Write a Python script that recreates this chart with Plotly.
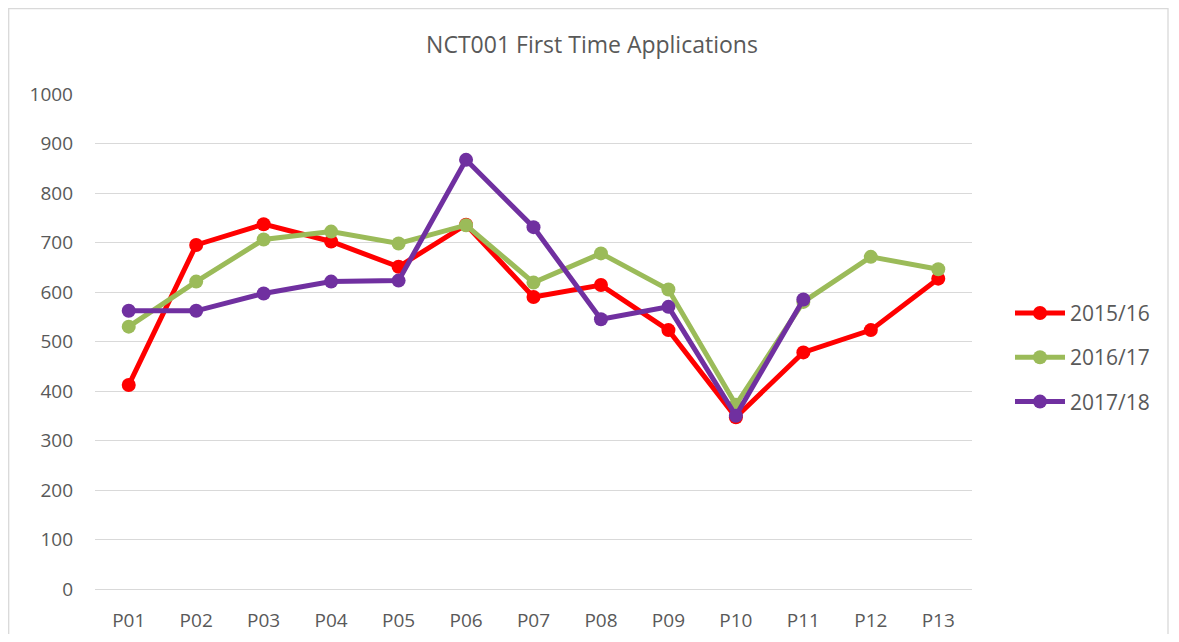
import plotly.graph_objects as go

periods = ["P01", "P02", "P03", "P04", "P05", "P06", "P07", "P08", "P09", "P10", "P11", "P12", "P13"]
y2015 = [412, 695, 737, 702, 651, 736, 590, 614, 523, 347, 478, 523, 627]
y2016 = [530, 621, 706, 722, 698, 735, 619, 678, 605, 372, 580, 671, 646]
y2017 = [562, 562, 597, 621, 623, 867, 731, 545, 570, 350, 585]
series_names = ["2015/16", "2016/17", "2017/18"]
series_colors = ["#FF0000", "#9BBB59", "#7030A0"]

# page body has an 8px margin; figure is sized/positioned to compensate
W, H = 1163, 626
L, T = 87, 86
PW, PH = 877, 495
R = W - L - PW
B = H - T - PH

fig = go.Figure()
for name, vals, col in zip(series_names, [y2015, y2016, y2017], series_colors):
    fig.add_trace(go.Scatter(
        x=periods[:len(vals)], y=vals, name=name, mode="lines+markers",
        line=dict(color=col, width=5),
        marker=dict(color=col, size=14),
        legendgroup=name,
    ))

fig.update_layout(
    width=W, height=H,
    margin=dict(l=L, r=R, t=T, b=B, autoexpand=False),
    paper_bgcolor="white", plot_bgcolor="white",
    font=dict(family="'Open Sans', sans-serif", color="#595959", size=19),
    title=dict(text="NCT001 First Time Applications", x=(592 - 8) / W, xref="container",
               xanchor="center", y=1 - 37 / H, yref="container", yanchor="middle",
               font=dict(size=23, color="#595959")),
    legend=dict(x=(1010 - 8 - L) / PW, xanchor="left", y=0.468, yanchor="middle",
                font=dict(size=21, color="#595959"), tracegroupgap=14,
                itemwidth=50, bgcolor="rgba(0,0,0,0)"),
    showlegend=True,
)
fig.update_xaxes(type="category", categoryorder="array", categoryarray=periods,
                 range=[-0.5, 12.5], showgrid=False, showline=False, zeroline=False,
                 automargin=False,
                 ticks="", ticklabelstandoff=18, tickfont=dict(size=19, color="#595959"))
fig.update_yaxes(range=[0, 1000], dtick=100, showgrid=True, gridcolor="#D9D9D9",
                 gridwidth=1.3, zeroline=True, zerolinecolor="#D9D9D9", zerolinewidth=1.3,
                 showline=False, ticks="", ticklabelstandoff=21, automargin=False,
                 tickfont=dict(size=19, color="#595959"))

fig.add_shape(type="rect", xref="paper", yref="paper",
              x0=(0.7 - L) / PW, x1=(1168 - 8 - L) / PW,
              y0=-(B + 10) / PH, y1=1 + (T - 0.7) / PH,
              line=dict(color="#D9D9D9", width=1.3), fillcolor="rgba(0,0,0,0)", layer="below")

fig.write_html("out.html")
